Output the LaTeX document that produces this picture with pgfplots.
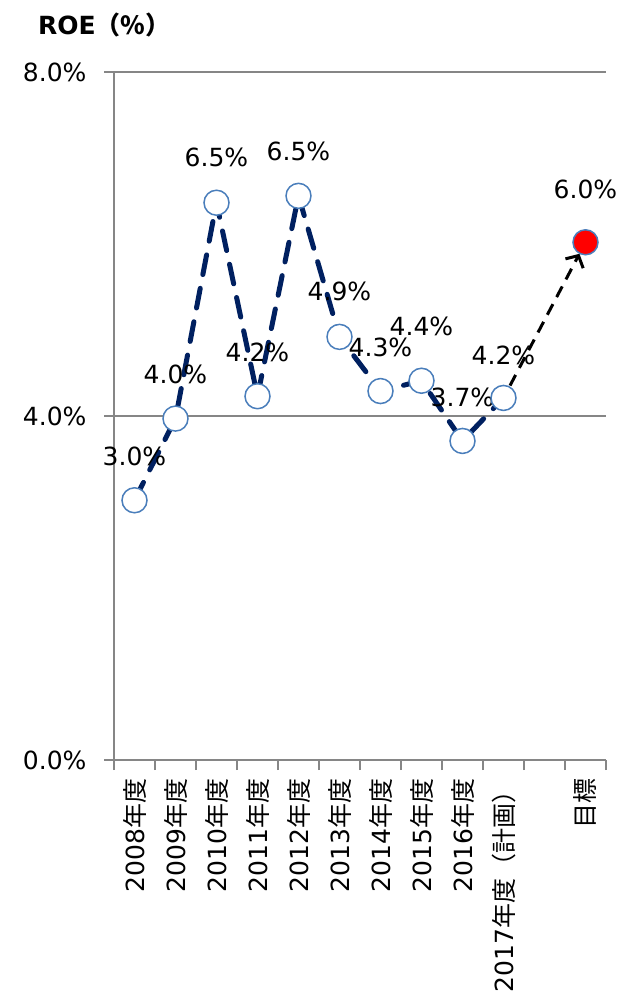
\documentclass[border=0pt]{standalone}
\usepackage{pgfplots}
\pgfplotsset{compat=1.18}
\usepackage{pgfplotstable}
\usepackage{fontspec}
\setmainfont{DejaVu Sans}
\newfontfamily\cjk{Noto Sans CJK JP}
\usetikzlibrary{arrows.meta}

\definecolor{axgray}{HTML}{868686}
\definecolor{navy}{HTML}{002060}
\definecolor{mkblue}{HTML}{4A7EBB}

\newcommand{\lblfont}{\fontsize{25bp}{30bp}\selectfont}

% ROE by fiscal year (x = category index)
\pgfplotstableread{
x y    dy label
0 3.02 44 3.0
1 3.97 44 4.0
2 6.48 45 6.5
3 4.23 44 4.2
4 6.56 44 6.5
5 4.92 45 4.9
6 4.29 44 4.3
7 4.41 54 4.4
8 3.71 44 3.7
9 4.21 43 4.2
}\roe

% target
\pgfplotstableread{
x  y    dy label
11 6.02 53 6.0
}\target

\begin{document}
\begin{tikzpicture}
\begin{axis}[
    at={(0,0)}, anchor=south west,
    scale only axis, width=492bp, height=688bp,
    clip=false,
    xmin=-0.5, xmax=11.5, ymin=0, ymax=8,
    axis x line*=bottom, axis y line*=left,
    axis line style={axgray, line width=1.5bp},
    tick align=outside,
    major tick length=10bp,
    tick style={axgray, line width=1.5bp},
    ytick={0,4,8}, yticklabels={0.0\%,4.0\%,8.0\%},
    ymajorgrids, grid style={axgray, line width=1.2bp},
    xtick={-0.5,0.5,...,11.5}, xticklabels={},
    extra x ticks={0,1,2,3,4,5,6,7,8,9,11},
    extra x tick labels={
        {2008{\cjk 年度}},{2009{\cjk 年度}},{2010{\cjk 年度}},{2011{\cjk 年度}},
        {2012{\cjk 年度}},{2013{\cjk 年度}},{2014{\cjk 年度}},{2015{\cjk 年度}},
        {2016{\cjk 年度}},{2017{\cjk 年度（計画）}},{{\cjk 目標}}},
    extra x tick style={major tick length=0pt,
        tick label style={font=\lblfont, rotate=90, anchor=east, xshift=-15bp}},
    tick label style={font=\lblfont},
    yticklabel style={xshift=-14bp},
    point meta=explicit symbolic,
]

% history line
\addplot[navy, line width=5bp, dash pattern=on 20bp off 14bp, line cap=round, mark=none]
    table[x=x, y=y] {\roe};

% dashed arrow towards target
\addplot[black, line width=3bp, dash pattern=on 12bp off 8bp, mark=none,
    shorten <=14bp, shorten >=13bp,
    -{Straight Barb[length=9bp, width=20bp, line width=3bp]}]
    coordinates {(9,4.21) (11,6.02)};

% history markers with labels
\addplot[only marks, mark=*, mark size=12.5bp,
    mark options={fill=white, draw=mkblue, line width=1.5bp},
    visualization depends on={\thisrow{dy} \as \dy},
    nodes near coords={\pgfplotspointmeta\%},
    every node near coord/.append style={anchor=center, yshift=\dy bp,
        font=\lblfont, black}]
    table[x=x, y=y, meta=label] {\roe};

% target marker
\addplot[only marks, mark=*, mark size=12.5bp,
    mark options={fill=red, draw=mkblue, line width=1.5bp},
    visualization depends on={\thisrow{dy} \as \dy},
    nodes near coords={\pgfplotspointmeta\%},
    every node near coord/.append style={anchor=center, yshift=\dy bp,
        font=\lblfont, black}]
    table[x=x, y=y, meta=label] {\target};
\end{axis}

\node[anchor=west, inner sep=0pt, font=\bfseries\lblfont] at (-76bp,735bp) {ROE{\cjk（\%）}};

\pgfresetboundingbox
\useasboundingbox (-114bp,-245bp) rectangle (509bp,760bp);
\end{tikzpicture}
\end{document}
